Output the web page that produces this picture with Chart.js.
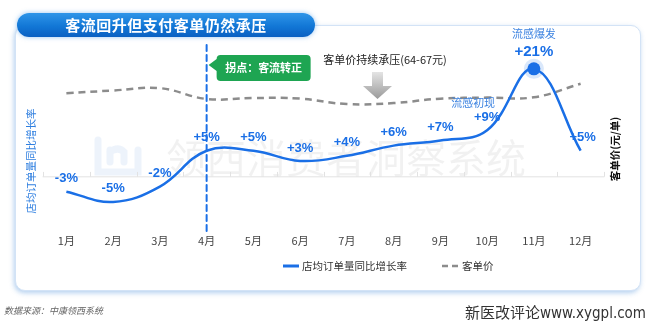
<!DOCTYPE html>
<html>
<head>
<meta charset="utf-8">
<script src="https://cdn.jsdelivr.net/npm/chart.js@4.4.1/dist/chart.umd.min.js"></script>
<style>
  html, body { margin: 0; padding: 0; background: #fff; }
  #wrap { position: relative; width: 650px; height: 323px; overflow: hidden; }
  .card {
    position: absolute; left: 15px; top: 25px; width: 624px; height: 264px;
    border-radius: 10px; background: #fff; border: 1px solid #d3e3f6;
    box-shadow: -1px 2px 5px rgba(40, 120, 210, 0.35);
  }
  .title {
    position: absolute; left: 17px; top: 13px; width: 298px; height: 24px;
    border-radius: 12px;
    background: linear-gradient(180deg, #2f95e8 0%, #1277d6 55%, #0a60c2 100%);
    box-shadow: 0 0 5px rgba(70, 150, 230, 0.55);
    color: #fff; font: bold 15px 'Noto Sans CJK SC', sans-serif;
    text-align: center; line-height: 24px; letter-spacing: 0.5px;
  }
  #chart { position: absolute; left: 0; top: 0; }
  .src { position: absolute; left: 4px; top: 304px; font: italic 9px 'Noto Sans CJK SC', sans-serif; color: #666; }
  .site { position: absolute; right: 4px; top: 301px; font: 15px 'DejaVu Sans Condensed', 'Noto Sans CJK SC', sans-serif; color: #333; }
</style>
</head>
<body>
<div id="wrap">
  <div class="card"></div>
  <canvas id="chart" width="650" height="323"></canvas>
  <div class="title">客流回升但支付客单仍然承压</div>
  <div class="src">数据来源：中康领西系统</div>
  <div class="site">新医改评论www.xygpl.com</div>
</div>
<script>
'use strict';

// months on the x axis
let months = ['1月', '2月', '3月', '4月', '5月', '6月', '7月', '8月', '9月', '10月', '11月', '12月'];
// store order volume, year-on-year growth (%)
let orderGrowth = [-3, -5, -2, 5, 5, 3, 4, 6, 7, 9, 21, 5];
// average ticket price (yuan per order)
let ticketPrice = [65.6, 66.0, 66.35, 64.75, 64.9, 64.8, 64.0, 64.15, 64.8, 64.95, 65.0, 67.0];

let growthName = '店均订单量同比增长率';
let priceName = '客单价';
let blue = '#1a6fe6';
let gray = '#8c8c8c';
let fontFamily = "'Liberation Sans', 'Noto Sans CJK SC', sans-serif";
let cjkFont = "'Noto Sans CJK SC', sans-serif";

function pctText(v) {
    return (v > 0 ? '+' : '') + v + '%';
}

// background bits: watermark, zero line, the April marker
let backdrop = {
    id: 'backdrop',
    beforeDatasetsDraw(chart) {
        let ctx = chart.ctx;
        let x = chart.scales.x;
        let y = chart.scales.y;
        ctx.save();

        // watermark
        ctx.strokeStyle = 'rgba(110, 160, 225, 0.12)';
        ctx.lineWidth = 7;
        ctx.lineCap = 'round';
        ctx.beginPath();
        ctx.moveTo(98, 140);
        ctx.lineTo(98, 172);
        ctx.lineTo(138, 172);
        ctx.lineTo(138, 150);
        ctx.moveTo(110, 150);
        ctx.lineTo(110, 162);
        ctx.moveTo(110, 152);
        ctx.quadraticCurveTo(118, 146, 124, 152);
        ctx.lineTo(124, 162);
        ctx.stroke();
        ctx.fillStyle = 'rgba(0, 0, 0, 0.055)';
        ctx.font = '40px ' + cjkFont;
        ctx.textBaseline = 'middle';
        ctx.textAlign = 'left';
        ctx.fillText('领西消费者洞察系统', 166, 158);

        // zero line with small ticks between months
        let y0 = y.getPixelForValue(0);
        ctx.strokeStyle = '#e2e2e2';
        ctx.lineWidth = 1;
        ctx.beginPath();
        ctx.moveTo(chart.chartArea.left, y0 + 0.5);
        ctx.lineTo(chart.chartArea.right, y0 + 0.5);
        let step = x.getPixelForValue(1) - x.getPixelForValue(0);
        for (let i = 0; i <= months.length; i++) {
            let px = Math.round(x.getPixelForValue(0) - step / 2 + i * step) + 0.5;
            ctx.moveTo(px, y0 - 4);
            ctx.lineTo(px, y0);
        }
        ctx.stroke();

        // April turning point marker
        let ax = x.getPixelForValue(3);
        ctx.strokeStyle = blue;
        ctx.lineWidth = 2;
        ctx.setLineDash([6, 4]);
        ctx.beginPath();
        ctx.moveTo(ax, 45);
        ctx.lineTo(ax, 234);
        ctx.stroke();
        ctx.setLineDash([]);

        // halo behind the November peak
        let peak = chart.getDatasetMeta(0).data[10];
        ctx.fillStyle = 'rgba(26, 111, 230, 0.16)';
        ctx.beginPath();
        ctx.arc(peak.x, peak.y, 10, 0, Math.PI * 2);
        ctx.fill();

        ctx.restore();
    }
};

// value labels, notes, axis titles and legend
let notes = {
    id: 'notes',
    afterDatasetsDraw(chart) {
        let ctx = chart.ctx;
        let x = chart.scales.x;
        let points = chart.getDatasetMeta(0).data;
        ctx.save();
        ctx.textAlign = 'center';
        ctx.textBaseline = 'middle';

        // growth labels
        ctx.fillStyle = blue;
        for (let i = 0; i < points.length; i++) {
            let big = i === 10;
            ctx.font = 'bold ' + (big ? 15 : 13) + 'px ' + fontFamily;
            let lx = points[i].x + (i === 11 ? 2 : 0);
            ctx.fillText(pctText(orderGrowth[i]), lx, points[i].y - (big ? 17 : 13));
        }

        // flu notes
        ctx.font = '11px ' + cjkFont;
        ctx.fillStyle = '#3b82e0';
        ctx.fillText('流感爆发', x.getPixelForValue(10), 34);
        ctx.fillText('流感初现', x.getPixelForValue(9) - 14, 103);

        // green call-out at April
        let ax = x.getPixelForValue(3);
        ctx.fillStyle = '#1ea552';
        ctx.beginPath();
        ctx.moveTo(ax + 2, 65);
        ctx.lineTo(ax + 10, 59);
        ctx.lineTo(ax + 10, 58);
        ctx.arcTo(ax + 10, 55, ax + 14, 55, 4);
        ctx.arcTo(ax + 104, 55, ax + 104, 81, 4);
        ctx.arcTo(ax + 104, 81, ax + 10, 81, 4);
        ctx.arcTo(ax + 10, 81, ax + 10, 55, 4);
        ctx.lineTo(ax + 10, 71);
        ctx.closePath();
        ctx.fill();
        ctx.fillStyle = '#fff';
        ctx.font = 'bold 11px ' + cjkFont;
        ctx.fillText('拐点：客流转正', ax + 57, 68);

        // price pressure note with arrow
        ctx.fillStyle = '#222';
        ctx.font = '11px ' + cjkFont;
        ctx.fillText('客单价持续承压(64-67元)', 385, 60);
        let grad = ctx.createLinearGradient(0, 72, 0, 99);
        grad.addColorStop(0, '#e4e4e4');
        grad.addColorStop(1, '#9a9a9a');
        ctx.fillStyle = grad;
        ctx.beginPath();
        ctx.moveTo(372, 72);
        ctx.lineTo(383, 72);
        ctx.lineTo(383, 86);
        ctx.lineTo(392, 86);
        ctx.lineTo(377.5, 99);
        ctx.lineTo(363, 86);
        ctx.lineTo(372, 86);
        ctx.closePath();
        ctx.fill();

        // axis titles
        ctx.save();
        ctx.translate(31, 161);
        ctx.rotate(-Math.PI / 2);
        ctx.fillStyle = '#2f7fe0';
        ctx.font = '10.5px ' + cjkFont;
        ctx.fillText(growthName, 0, 0);
        ctx.restore();
        ctx.save();
        ctx.translate(615, 149);
        ctx.rotate(-Math.PI / 2);
        ctx.fillStyle = '#111';
        ctx.font = 'bold 10.5px ' + cjkFont;
        ctx.fillText('客单价(元/单)', 0, 0);
        ctx.restore();

        // legend
        ctx.textAlign = 'left';
        ctx.font = '10.5px ' + cjkFont;
        ctx.strokeStyle = blue;
        ctx.lineWidth = 3;
        ctx.beginPath();
        ctx.moveTo(283, 266);
        ctx.lineTo(299, 266);
        ctx.stroke();
        ctx.fillStyle = '#333';
        ctx.fillText(growthName, 302, 266);
        ctx.strokeStyle = gray;
        ctx.lineWidth = 2.5;
        ctx.setLineDash([6, 4]);
        ctx.beginPath();
        ctx.moveTo(442, 266);
        ctx.lineTo(458, 266);
        ctx.stroke();
        ctx.setLineDash([]);
        ctx.fillText(priceName, 462, 266);

        ctx.restore();
    }
};

let ctx = document.getElementById('chart').getContext('2d');
let chart = new Chart(ctx, {
    type: 'line',
    data: {
        labels: months,
        datasets: [{
            label: growthName,
            data: orderGrowth,
            yAxisID: 'y',
            borderColor: blue,
            borderWidth: 2.5,
            tension: 0.4,
            pointRadius: orderGrowth.map((v, i) => i === 10 ? 6.5 : 0),
            pointBackgroundColor: blue,
            pointBorderWidth: 0
        },
        {
            label: priceName,
            data: ticketPrice,
            yAxisID: 'y1',
            borderColor: gray,
            borderWidth: 2.5,
            borderDash: [7, 5],
            tension: 0.4,
            pointRadius: 0
        }]
    },
    options: {
        responsive: false,
        devicePixelRatio: 1,
        animation: false,
        layout: { padding: { left: 43, right: 46, top: 40, bottom: 70 } },
        plugins: {
            legend: { display: false },
            tooltip: { enabled: false }
        },
        scales: {
            x: {
                offset: true,
                grid: { display: false, drawTicks: false },
                border: { display: false },
                ticks: { color: '#444', padding: 6, font: { size: 11, family: cjkFont } }
            },
            y: { display: false, min: -10.06, max: 26.64 },
            y1: { display: false, position: 'right', min: 45.77, max: 73.44 }
        }
    },
    plugins: [backdrop, notes]
});
</script>
</body>
</html>
